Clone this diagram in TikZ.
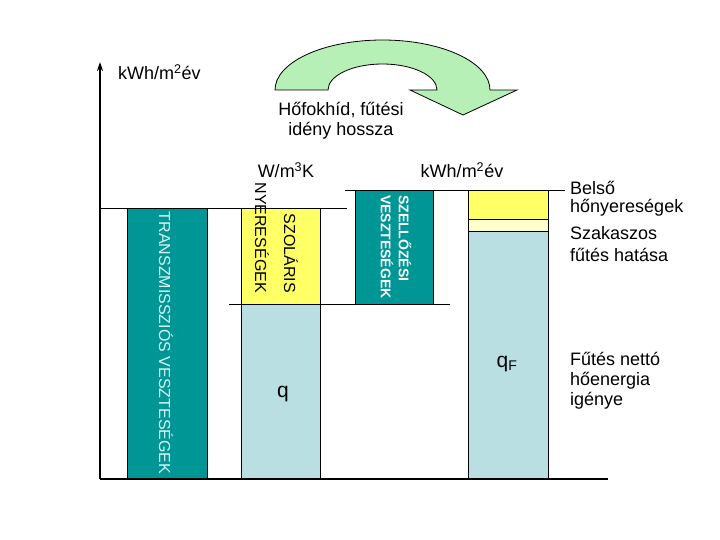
\documentclass[tikz,border=0pt]{standalone}
\usepackage{fontspec}
\setmainfont{Liberation Sans}
\usetikzlibrary{arrows.meta}
\definecolor{tealbar}{RGB}{0,150,150}
\definecolor{lightbluebar}{RGB}{186,223,227}
\definecolor{yellowbar}{RGB}{255,255,102}
\definecolor{paleyellow}{RGB}{255,255,204}
\definecolor{arrowgreen}{RGB}{182,240,182}
\definecolor{translabel}{RGB}{215,245,245}
\tikzset{
  bar/.style={draw=black, line width=0.8pt},
  level/.style={draw=black, line width=0.8pt},
  lbl/.style={inner sep=0pt, font=\fontsize{18}{20}\selectfont},
  qlbl/.style={inner sep=0pt, font=\fontsize{21}{24}\selectfont},
  vlbl/.style={inner sep=0pt, rotate=-90, font=\fontsize{16}{18}\selectfont},
  axisline/.style={draw=black, line width=1.8pt}
}
\begin{document}
\begin{tikzpicture}[x=1pt,y=-1pt]
\useasboundingbox (0,0) rectangle (720,540);
% named coordinates for axes
\coordinate (origin) at (100,479);
\coordinate (ytop) at (100,62);
\coordinate (xend) at (608,479);
% bars
\filldraw[bar, fill=tealbar] (127,208) rectangle (207,479);
\filldraw[bar, fill=yellowbar] (241,208) rectangle (320,304);
\filldraw[bar, fill=lightbluebar] (241,304) rectangle (320,479);
\filldraw[bar, fill=tealbar] (355,190) rectangle (433,304);
\filldraw[bar, fill=yellowbar] (468,190) rectangle (548,219);
\filldraw[bar, fill=paleyellow] (468,219) rectangle (548,231);
\filldraw[bar, fill=lightbluebar] (468,231) rectangle (548,479);
% level lines
\coordinate (l1a) at (100,208); \coordinate (l1b) at (347,208);
\coordinate (l2a) at (229,304); \coordinate (l2b) at (450,304);
\coordinate (l3a) at (345,190); \coordinate (l3b) at (565,190);
\draw[level] (l1a) -- (l1b);
\draw[level] (l2a) -- (l2b);
\draw[level] (l3a) -- (l3b);
% axes
\draw[axisline] (origin) -- (xend);
\draw[axisline, -{Stealth[length=9pt,width=6pt]}] (origin) -- (ytop);
% curved arrow
\filldraw[draw=black, line width=0.8pt, fill=arrowgreen]
  (275,90) arc[start angle=180, end angle=0, x radius=107.5pt, y radius=50pt]
  -- (517,90) -- (463,115) -- (410,90) -- (437,90)
  arc[start angle=0, end angle=180, x radius=54.5pt, y radius=26pt] -- cycle;
% labels
\node[lbl, anchor=base west] (unit1) at (118,80) {kWh/m\textsuperscript{2}év};
\node[lbl, anchor=base] (hof1) at (341,116) {Hőfokhíd, fűtési};
\node[lbl, anchor=base] (hof2) at (341,136) {idény hossza};
\node[lbl, anchor=base] (unit2) at (286,178) {W/m\textsuperscript{3}K};
\node[lbl, anchor=base] (unit3) at (462,178) {kWh/m\textsuperscript{2}év};
\node[lbl, anchor=base west] (r1) at (570,195) {Belső};
\node[lbl, anchor=base west] (r2) at (570,213) {hőnyereségek};
\node[lbl, anchor=base west] (r3) at (570,240) {Szakaszos};
\node[lbl, anchor=base west] (r4) at (570,261) {fűtés hatása};
\node[lbl, anchor=base west] (r5) at (570,365) {Fűtés nettó};
\node[lbl, anchor=base west] (r6) at (570,385) {hőenergia};
\node[lbl, anchor=base west] (r7) at (570,405) {igénye};
\node[qlbl, anchor=base] (q) at (283,397) {q};
\node[qlbl, anchor=base] (qF) at (507,367) {q\textsubscript{\fontsize{14}{16}\selectfont F}};
% rotated labels
\node[vlbl, text=translabel] (trans) at (166,343) {TRANSZMISSZIÓS VESZTESÉGEK};
\node[vlbl, anchor=east] (sol1) at (291,293) {SZOLÁRIS};
\node[vlbl, anchor=east] (sol2) at (262,293) {NYERESÉGEK};
\node[inner sep=0pt, rotate=-90, anchor=west, align=left, text=white,
      font=\fontsize{14}{18}\bfseries\selectfont] (vent) at (396,195) {SZELLŐZÉSI\\VESZTESÉGEK};
\end{tikzpicture}
\end{document}
